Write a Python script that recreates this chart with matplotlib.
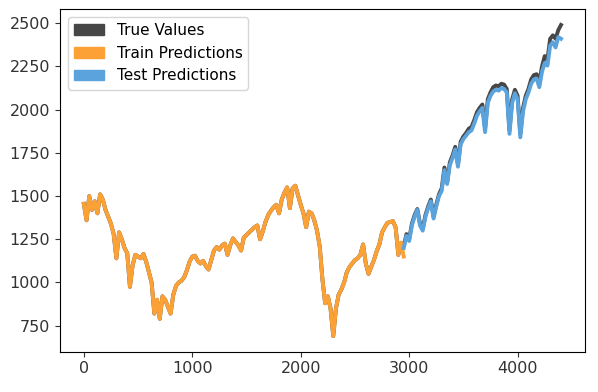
import numpy as np
import matplotlib
matplotlib.use('Agg')
import matplotlib.pyplot as plt
import matplotlib.patches as mpatches

step = 25  # samples between readings

# train period (true values coincide with train predictions here)
train_pred = [1455, 1360, 1500, 1420, 1470, 1400, 1510, 1480, 1420, 1380,
              1340, 1280, 1140, 1290, 1250, 1200, 1170, 975, 1100, 1160,
              1150, 1140, 1165, 1120, 1060, 1000, 820, 900, 790, 920,
              900, 860, 820, 930, 980, 1000, 1010, 1030, 1070, 1120,
              1150, 1155, 1125, 1110, 1125, 1095, 1075, 1130, 1185, 1205,
              1190, 1215, 1225, 1160, 1215, 1255, 1235, 1215, 1185, 1260,
              1275, 1290, 1305, 1320, 1330, 1250, 1295, 1350, 1390, 1415,
              1435, 1450, 1400, 1480, 1520, 1550, 1430, 1545, 1560, 1505,
              1450, 1400, 1320, 1410, 1400, 1360, 1300, 1210, 1020, 880,
              920, 850, 690, 850, 930, 960, 1000, 1060, 1090, 1110,
              1130, 1140, 1160, 1220, 1110, 1050, 1090, 1130, 1180, 1220,
              1290, 1320, 1345, 1350, 1355, 1320, 1160, 1230, 1150]

# test period
test_true = [1210, 1280, 1250, 1340, 1390, 1425, 1340, 1310, 1390, 1440,
             1480, 1380, 1450, 1510, 1545, 1665, 1580, 1695, 1735, 1785,
             1685, 1815, 1845, 1865, 1890, 1900, 1940, 1985, 2010, 2030,
             1890, 2060, 2100, 2130, 2140, 2135, 2150, 2145, 2120, 1880,
             2060, 2115, 2080, 1860, 2010, 2080, 2120, 2175, 2200, 2205,
             2160, 2250, 2310, 2290, 2410, 2430, 2410, 2460, 2490]

test_pred = [1200, 1270, 1240, 1330, 1380, 1420, 1330, 1300, 1380, 1430,
             1470, 1370, 1440, 1500, 1530, 1650, 1570, 1680, 1720, 1770,
             1670, 1800, 1830, 1850, 1870, 1880, 1920, 1965, 1990, 2010,
             1870, 2040, 2080, 2105, 2115, 2110, 2125, 2120, 2100, 1860,
             2040, 2095, 2060, 1840, 1990, 2060, 2100, 2150, 2175, 2180,
             2130, 2220, 2270, 2255, 2370, 2390, 2360, 2420, 2410]

true_values = train_pred[:-1] + test_true
x_all = np.arange(len(true_values)) * step
x_train = np.arange(len(train_pred)) * step
x_test = x_train[-1] + np.arange(len(test_pred)) * step

fig = plt.figure(figsize=(5.98, 3.92), dpi=100)
ax = fig.add_axes([0.1003, 0.103, 0.8777, 0.873])

lw = 2.8
ax.plot(x_all, true_values, color='#474747', linewidth=lw)
ax.plot(x_train, train_pred, color='#fba136', linewidth=lw)
ax.plot(x_test, test_pred, color='#5aa3dc', linewidth=lw)

handles = [mpatches.Patch(color='#474747', label='True Values'),
           mpatches.Patch(color='#fba136', label='Train Predictions'),
           mpatches.Patch(color='#5aa3dc', label='Test Predictions')]
ax.legend(handles=handles, loc='upper left', fontsize=11)

ax.set_yticks([750, 1000, 1250, 1500, 1750, 2000, 2250, 2500])
ax.set_xticks([0, 1000, 2000, 3000, 4000])
ax.tick_params(labelsize=11.5, colors='#333333')

plt.savefig('out.png')
